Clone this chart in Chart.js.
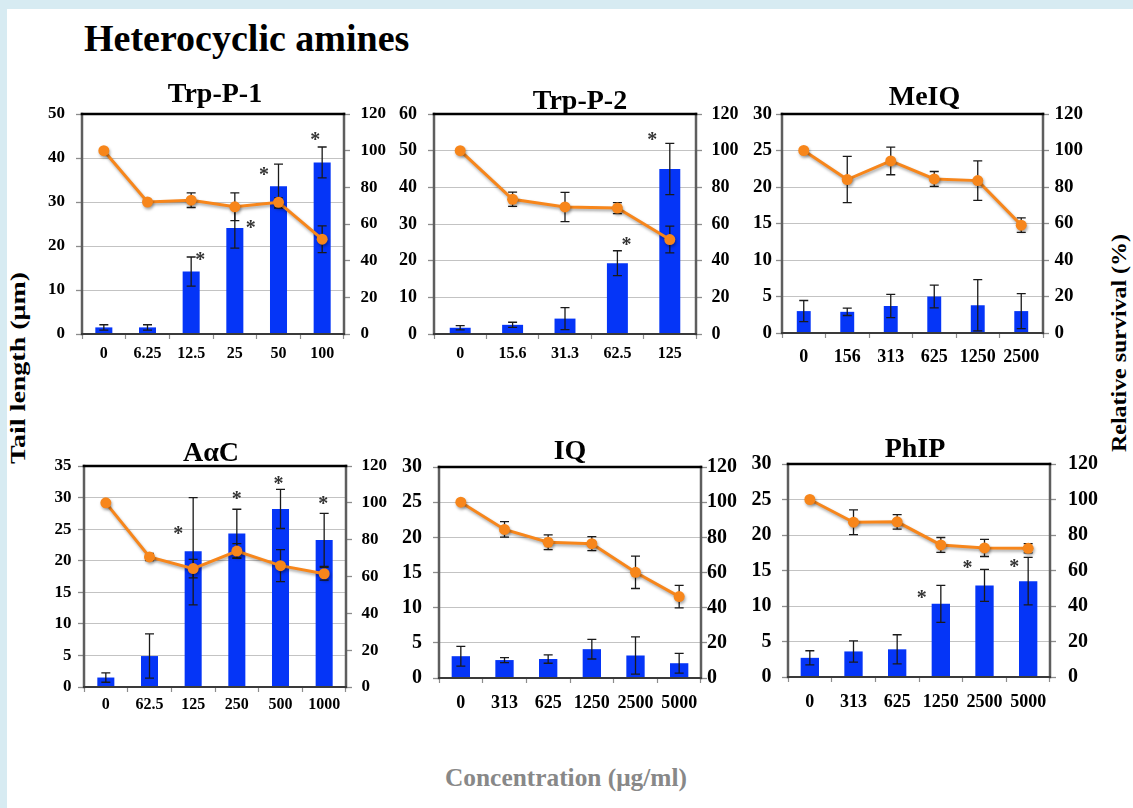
<!DOCTYPE html>
<html>
<head>
<meta charset="utf-8">
<script src="https://cdn.jsdelivr.net/npm/chart.js@4.4.1/dist/chart.umd.min.js"></script>
<style>
  html, body { margin: 0; padding: 0; }
  body {
    width: 1133px; height: 808px; overflow: hidden; position: relative;
    background: #d7ebf2;
    font-family: "Liberation Serif", "Times New Roman", serif;
  }
  #sheet { position: absolute; left: 7px; top: 9px; right: 0; bottom: 0; background: #fff; }
  .txt { position: absolute; white-space: nowrap; font-weight: bold; line-height: normal; color: #000; }
  #mainTitle { left: 84px; top: 16px; font-size: 38px; }
  #yLeftTitle { font-size: 21px; }
  #yRightTitle { font-size: 21.5px; }
  #xTitle { font-size: 25px; color: #888; }
  canvas { position: absolute; }
</style>
</head>
<body>
<div id="sheet"></div>
<div class="txt" id="mainTitle">Heterocyclic amines</div>
<div class="txt" id="yLeftTitle">Tail length (μm)</div>
<div class="txt" id="yRightTitle">Relative survival (%)</div>
<div class="txt" id="xTitle">Concentration (μg/ml)</div>

<script>
// ---- Comet assay tail length (bars, left axis) and relative survival (line, right axis) ----

// Trp-P-1
const trpP1Doses = ['0', '6.25', '12.5', '25', '50', '100'];
const trpP1Tail = [1.5, 1.5, 14.2, 24.1, 33.6, 39.0];
const trpP1TailSd = [0.6, 0.6, 3.3, 4.6, 5.0, 3.5];
const trpP1Survival = [100, 72, 73, 69.4, 71.8, 51.7];
const trpP1SurvivalSd = [0, 1, 4, 7.6, 2.5, 7.3];
const trpP1Significant = [false, false, true, true, true, true];
const trpP1TailAxis = [0, 50, 10];

// Trp-P-2
const trpP2Doses = ['0', '15.6', '31.3', '62.5', '125'];
const trpP2Tail = [1.7, 2.5, 4.2, 19.3, 45.0];
const trpP2TailSd = [0.6, 0.7, 3.0, 3.4, 7.0];
const trpP2Survival = [100, 73.5, 69.3, 68.7, 51.5];
const trpP2SurvivalSd = [0, 3.9, 8, 3, 7.3];
const trpP2Significant = [false, false, false, true, true];
const trpP2TailAxis = [0, 60, 10];

// MeIQ
const meiqDoses = ['0', '156', '313', '625', '1250', '2500'];
const meiqTail = [3.0, 2.9, 3.7, 5.0, 3.8, 3.0];
const meiqTailSd = [1.45, 0.5, 1.6, 1.55, 3.5, 2.4];
const meiqSurvival = [100, 84.1, 94.3, 84.4, 83.5, 59.1];
const meiqSurvivalSd = [0, 12.7, 7.6, 4.1, 10.8, 4];
const meiqSignificant = [false, false, false, false, false, false];
const meiqTailAxis = [0, 30, 5];

// AαC
const aacDoses = ['0', '62.5', '125', '250', '500', '1000'];
const aacTail = [1.5, 4.9, 21.5, 24.3, 28.2, 23.3];
const aacTailSd = [0.75, 3.5, 8.5, 3.85, 3.1, 4.2];
const aacSurvival = [100, 70.6, 64.3, 73.8, 65.9, 61.5];
const aacSurvivalSd = [0, 2, 5, 4, 8.7, 3.5];
const aacSignificant = [false, false, true, true, true, true];
const aacTailAxis = [0, 35, 5];

// IQ
const iqDoses = ['0', '313', '625', '1250', '2500', '5000'];
const iqTail = [3.1, 2.55, 2.7, 4.1, 3.2, 2.1];
const iqTailSd = [1.4, 0.35, 0.6, 1.4, 2.65, 1.4];
const iqSurvival = [100, 84.5, 77.2, 76.4, 60.1, 46.3];
const iqSurvivalSd = [0, 4.4, 4.2, 4, 9.2, 6.4];
const iqSignificant = [false, false, false, false, false, false];
const iqTailAxis = [0, 30, 5];

// PhIP
const phipDoses = ['0', '313', '625', '1250', '2500', '5000'];
const phipTail = [2.7, 3.6, 3.9, 10.3, 12.9, 13.5];
const phipTailSd = [1.0, 1.5, 2.05, 2.6, 2.25, 3.35];
const phipSurvival = [100, 87.2, 87.4, 74.4, 72.7, 72.5];
const phipSurvivalSd = [0, 7, 4.1, 4.2, 4.8, 2.6];
const phipSignificant = [false, false, false, true, true, true];
const phipTailAxis = [0, 30, 5];

// right axis (relative survival, %)
const survivalAxis = [0, 120, 20];

const panels = [
  { name: 'Trp-P-1', doses: trpP1Doses, tail: trpP1Tail, tailSd: trpP1TailSd, survival: trpP1Survival, survivalSd: trpP1SurvivalSd, significant: trpP1Significant, tailAxis: trpP1TailAxis },
  { name: 'Trp-P-2', doses: trpP2Doses, tail: trpP2Tail, tailSd: trpP2TailSd, survival: trpP2Survival, survivalSd: trpP2SurvivalSd, significant: trpP2Significant, tailAxis: trpP2TailAxis },
  { name: 'MeIQ', doses: meiqDoses, tail: meiqTail, tailSd: meiqTailSd, survival: meiqSurvival, survivalSd: meiqSurvivalSd, significant: meiqSignificant, tailAxis: meiqTailAxis },
  { name: 'AαC', doses: aacDoses, tail: aacTail, tailSd: aacTailSd, survival: aacSurvival, survivalSd: aacSurvivalSd, significant: aacSignificant, tailAxis: aacTailAxis },
  { name: 'IQ', doses: iqDoses, tail: iqTail, tailSd: iqTailSd, survival: iqSurvival, survivalSd: iqSurvivalSd, significant: iqSignificant, tailAxis: iqTailAxis },
  { name: 'PhIP', doses: phipDoses, tail: phipTail, tailSd: phipTailSd, survival: phipSurvival, survivalSd: phipSurvivalSd, significant: phipSignificant, tailAxis: phipTailAxis }
];

// ---- page layout: plot boxes, fonts, label spacing, asterisk offsets ----
const panelLayout = [
  { left: 82, top: 114, right: 344, bottom: 334, titleDx: 2, titleGap: 12.5, yFont: 17, xFont: 16, leftPad: 11, rightPad: 10.5, xPad: 5.5, barPct: 0.39,
    starOffsets: [[9, 0], [16, 17], [-14.5, 7], [-7, -10.5]] },
  { left: 434, top: 114, right: 696, bottom: 334, titleDx: 15, titleGap: 5, yFont: 18, xFont: 16, leftPad: 11, rightPad: 9.5, xPad: 5, barPct: 0.40,
    starOffsets: [[9, -9.5], [-17.5, -7]] },
  { left: 782, top: 114, right: 1043, bottom: 333, titleDx: 12, titleGap: 9, yFont: 19, xFont: 18, leftPad: 4, rightPad: 5.5, xPad: 8.5, barPct: 0.32,
    starOffsets: [] },
  { left: 84, top: 466, right: 346, bottom: 687, titleDx: -4, titleGap: 5, yFont: 17, xFont: 16, leftPad: 6.5, rightPad: 9.5, xPad: 3.5, barPct: 0.39,
    starOffsets: [[-15, 33], [0, -14], [-2, -9], [-1, -13]] },
  { left: 439, top: 467, right: 701, bottom: 678, titleDx: 0, titleGap: 8, yFont: 20, xFont: 18, leftPad: 11, rightPad: 0, xPad: 9.5, barPct: 0.42,
    starOffsets: [] },
  { left: 788, top: 464, right: 1050, bottom: 677, titleDx: -4, titleGap: 7.5, yFont: 20, xFont: 18, leftPad: 10.5, rightPad: 12, xPad: 9.5, barPct: 0.42,
    starOffsets: [[-19, 9.5], [-17, -4.5], [-14, 6]] }
];

const SERIF = '"Liberation Serif", "Times New Roman", serif';
const BAR_BLUE = '#0535f7';
const ORANGE = '#f7861b';
const LEFT_W = 70, RIGHT_W = 65, TOP_PAD = 50, X_H = 45;

Chart.defaults.font.family = SERIF;
Chart.defaults.font.weight = 'bold';
Chart.defaults.color = '#000';

function strokeErr(ctx, x, scale, v, e, cap) {
  if (!e) return;
  const yHi = scale.getPixelForValue(v + e);
  const yLo = scale.getPixelForValue(v - e);
  ctx.beginPath();
  ctx.moveTo(x, yHi); ctx.lineTo(x, yLo);
  ctx.moveTo(x - cap, yHi); ctx.lineTo(x + cap, yHi);
  ctx.moveTo(x - cap, yLo); ctx.lineTo(x + cap, yLo);
  ctx.stroke();
}

function buildPanel(p, lay) {
  const w = lay.right - lay.left, h = lay.bottom - lay.top;
  const cw = w + LEFT_W + RIGHT_W, ch = h + TOP_PAD + X_H;
  const canvas = document.createElement('canvas');
  canvas.width = cw; canvas.height = ch;
  canvas.style.left = (lay.left - LEFT_W) + 'px';
  canvas.style.top = (lay.top - TOP_PAD) + 'px';
  canvas.style.width = cw + 'px';
  canvas.style.height = ch + 'px';
  document.body.appendChild(canvas);

  // soft drop shadow under the survival line
  const lineShadow = {
    id: 'lineShadow',
    beforeDatasetDraw(chart, args) {
      if (args.index !== 1) return;
      const ctx = chart.ctx;
      ctx.save();
      ctx.shadowColor = 'rgba(0,0,0,0.35)';
      ctx.shadowBlur = 3;
      ctx.shadowOffsetX = 1;
      ctx.shadowOffsetY = 2;
    },
    afterDatasetDraw(chart, args) {
      if (args.index !== 1) return;
      chart.ctx.restore();
    }
  };

  // SD error bars for both series, drawn above the bars and below the line
  const errorBars = {
    id: 'errorBars',
    afterDatasetDraw(chart, args) {
      if (args.index !== 0) return;
      const ctx = chart.ctx;
      ctx.save();
      ctx.strokeStyle = '#1a1a1a';
      ctx.lineWidth = 1.3;
      const barDs = chart.data.datasets[0], lineDs = chart.data.datasets[1];
      const barMeta = chart.getDatasetMeta(0), lineMeta = chart.getDatasetMeta(1);
      barMeta.data.forEach((el, i) => strokeErr(ctx, el.x, chart.scales.y, barDs.data[i], barDs.errors[i], 4.5));
      lineMeta.data.forEach((el, i) => strokeErr(ctx, el.x, chart.scales.y1, lineDs.data[i], lineDs.errors[i], 4.5));
      ctx.restore();
    }
  };

  // plot frame
  const frame = {
    id: 'frame',
    afterDatasetsDraw(chart) {
      const { ctx, chartArea: a } = chart;
      ctx.save();
      ctx.lineCap = 'square';
      const seg = (x1, y1, x2, y2, c, lw) => {
        ctx.strokeStyle = c; ctx.lineWidth = lw;
        ctx.beginPath(); ctx.moveTo(x1, y1); ctx.lineTo(x2, y2); ctx.stroke();
      };
      seg(a.left, a.top, a.left, a.bottom, '#5e5e5e', 2.5);
      seg(a.right, a.top, a.right, a.bottom, '#5e5e5e', 2.5);
      seg(a.left, a.bottom, a.right, a.bottom, '#3a3a3a', 2);
      seg(a.left, a.top, a.right, a.top, '#000', 2.5);
      ctx.restore();
    }
  };

  // significance asterisks next to the tail-length error bars
  const stars = {
    id: 'stars',
    afterDatasetsDraw(chart) {
      const ctx = chart.ctx;
      const ds = chart.data.datasets[0];
      const meta = chart.getDatasetMeta(0);
      const fs = 20;
      ctx.save();
      ctx.font = `bold ${fs}px ${SERIF}`;
      ctx.fillStyle = '#333';
      ctx.textAlign = 'center';
      ctx.textBaseline = 'alphabetic';
      let k = 0;
      p.significant.forEach((sig, i) => {
        if (!sig) return;
        const [dx, dy] = lay.starOffsets[k++] || [0, -10];
        const x = meta.data[i].x + dx;
        const y = chart.scales.y.getPixelForValue(ds.data[i] + ds.errors[i]) + dy;
        ctx.fillText('*', x, y + 0.47 * fs);
      });
      ctx.restore();
    }
  };

  // compound name above each plot
  const panelTitle = {
    id: 'panelTitle',
    afterDraw(chart) {
      const { ctx, chartArea: a } = chart;
      ctx.save();
      ctx.font = `bold 28px ${SERIF}`;
      ctx.fillStyle = '#000';
      ctx.textAlign = 'center';
      ctx.textBaseline = 'alphabetic';
      ctx.fillText(p.name, (a.left + a.right) / 2 + lay.titleDx, a.top - lay.titleGap);
      ctx.restore();
    }
  };

  new Chart(canvas.getContext('2d'), {
    type: 'bar',
    data: {
      labels: p.doses,
      datasets: [
        {
          type: 'bar', label: 'Tail length', data: p.tail, errors: p.tailSd, yAxisID: 'y',
          backgroundColor: BAR_BLUE, borderWidth: 0,
          barPercentage: lay.barPct, categoryPercentage: 1, order: 2
        },
        {
          type: 'line', label: 'Relative survival', data: p.survival, errors: p.survivalSd, yAxisID: 'y1',
          borderColor: ORANGE, backgroundColor: ORANGE, borderWidth: 3, tension: 0,
          pointRadius: 5.5, pointBorderWidth: 0, pointBackgroundColor: ORANGE, order: 1
        }
      ]
    },
    options: {
      responsive: false,
      animation: false,
      devicePixelRatio: 1,
      layout: { padding: { top: TOP_PAD, left: 0, right: 0, bottom: 0 } },
      plugins: { legend: { display: false }, tooltip: { enabled: false }, title: { display: false } },
      scales: {
        x: {
          offset: true,
          grid: { offset: true, drawOnChartArea: false, drawTicks: true, tickLength: 5, tickColor: '#8c8c8c', tickWidth: 1.2 },
          border: { display: false },
          ticks: { font: { size: lay.xFont, weight: 'bold', family: SERIF }, color: '#000', padding: lay.xPad, autoSkip: false, maxRotation: 0, minRotation: 0 },
          afterFit(s) { s.height = X_H; }
        },
        y: {
          position: 'left',
          min: p.tailAxis[0], max: p.tailAxis[1],
          ticks: { stepSize: p.tailAxis[2], font: { size: lay.yFont, weight: 'bold', family: SERIF }, color: '#000', padding: lay.leftPad },
          grid: { color: '#c3c3c3', lineWidth: 1, tickLength: 6, tickColor: '#8c8c8c', tickWidth: 1.3 },
          border: { display: false },
          afterFit(s) { s.width = LEFT_W; }
        },
        y1: {
          position: 'right',
          min: survivalAxis[0], max: survivalAxis[1],
          ticks: { stepSize: survivalAxis[2], font: { size: lay.yFont, weight: 'bold', family: SERIF }, color: '#000', padding: lay.rightPad },
          grid: { drawOnChartArea: false, tickLength: 6, tickColor: '#8c8c8c', tickWidth: 1.3 },
          border: { display: false },
          afterFit(s) { s.width = RIGHT_W; }
        }
      }
    },
    plugins: [lineShadow, errorBars, frame, stars, panelTitle]
  });
}

panels.forEach((p, i) => buildPanel(p, panelLayout[i]));

// shared axis titles, stretched to their printed lengths
function placeLabel(id, cx, cy, length, rotate) {
  const el = document.getElementById(id);
  const natural = el.getBoundingClientRect().width;
  const k = length / natural;
  el.style.left = cx + 'px';
  el.style.top = cy + 'px';
  el.style.transform = `translate(-50%, -50%) rotate(${rotate}deg) scaleX(${k})`;
}
placeLabel('yLeftTitle', 18, 367.5, 192, -90);
placeLabel('yRightTitle', 1118.5, 342.5, 218, -90);
placeLabel('xTitle', 565.5, 777.5, 242, 0);
</script>
</body>
</html>
